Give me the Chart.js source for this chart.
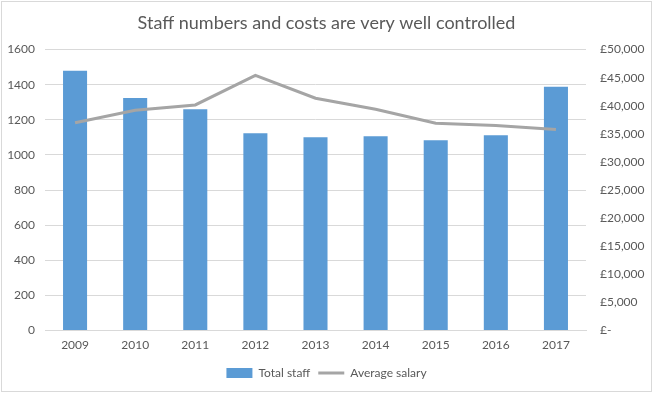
<!DOCTYPE html>
<html><head><meta charset="utf-8">
<script src="https://cdn.jsdelivr.net/npm/chart.js@4.4.0/dist/chart.umd.min.js"></script>
<style>html,body{margin:0;padding:0;background:#fff}#wrap{width:653px;height:393px;position:relative}</style>
</head><body><div id="wrap"><canvas id="c" width="653" height="393"></canvas></div>
<script>
const years = ['2009','2010','2011','2012','2013','2014','2015','2016','2017'];
const totalStaff = [1480, 1325, 1261, 1124, 1101, 1107, 1084, 1112, 1388];
const averageSalary = [37000, 39200, 40150, 45400, 41350, 39400, 36900, 36500, 35800];
const leftTicks = [0, 200, 400, 600, 800, 1000, 1200, 1400, 1600];
const rightTicks = [0, 5000, 10000, 15000, 20000, 25000, 30000, 35000, 40000, 45000, 50000];

const FONT = 'Lato, "Open Sans", sans-serif';
const TXT = '#595959';
const borderPlugin = {
  id: 'outerBorder',
  afterDraw(chart) {
    const ctx = chart.ctx;
    ctx.save();
    ctx.strokeStyle = '#d9d9d9';
    ctx.lineWidth = 1;
    ctx.strokeRect(1.5, 1.5, chart.width - 3, chart.height - 3);
    ctx.restore();
  }
};

new Chart(document.getElementById('c'), {
  data: {
    labels: years,
    datasets: [
      { type: 'line', label: 'Average salary', data: averageSalary, yAxisID: 'y2',
        borderColor: '#a5a5a5', backgroundColor: '#a5a5a5', borderWidth: 3,
        pointRadius: 0, tension: 0, order: 0 },
      { type: 'bar', label: 'Total staff', data: totalStaff, yAxisID: 'y',
        backgroundColor: '#5b9bd5', barPercentage: 0.4, categoryPercentage: 1, order: 1 }
    ]
  },
  options: {
    responsive: false,
    animation: false,
    layout: { padding: { top: 12, left: 0, right: 0, bottom: 4 } },
    plugins: {
      title: { display: true, text: 'Staff numbers and costs are very well controlled',
        color: TXT, font: { family: FONT, size: 18, weight: 'normal' }, padding: { top: 0, bottom: 16 } },
      legend: { position: 'bottom', reverse: true,
        labels: { color: TXT, font: { family: FONT, size: 12 }, usePointStyle: true,
          pointStyleWidth: 26, boxHeight: 10, padding: 8,
          generateLabels(chart) {
            const items = Chart.defaults.plugins.legend.labels.generateLabels(chart);
            items.forEach(it => {
              const ds = chart.data.datasets[it.datasetIndex];
              it.pointStyle = ds.type === 'line' ? 'line' : 'rect';
              it.lineWidth = ds.type === 'line' ? 3 : 0;
            });
            return items;
          } } },
      tooltip: { enabled: false }
    },
    scales: {
      x: { grid: { display: false, drawTicks: false }, border: { color: '#d9d9d9' },
        ticks: { color: TXT, font: { family: FONT, size: 12 }, padding: 7 } },
      y: { position: 'left', min: 0, max: 1600,
        afterBuildTicks(s) { s.ticks = leftTicks.map(v => ({ value: v })); },
        afterFit(s) { s.width = 45; },
        grid: { color: '#d9d9d9', drawTicks: false }, border: { display: false },
        ticks: { color: TXT, font: { family: FONT, size: 12 }, padding: 10, callback: v => String(v) } },
      y2: { position: 'right', min: 0, max: 50000,
        afterBuildTicks(s) { s.ticks = rightTicks.map(v => ({ value: v })); },
        afterFit(s) { s.width = 67; },
        grid: { display: false, drawTicks: false }, border: { display: false },
        ticks: { color: TXT, font: { family: FONT, size: 12 }, padding: 14,
          callback: v => v === 0 ? '£-' : '£' + v.toLocaleString('en-GB') } }
    }
  },
  plugins: [borderPlugin]
});
</script></body></html>
